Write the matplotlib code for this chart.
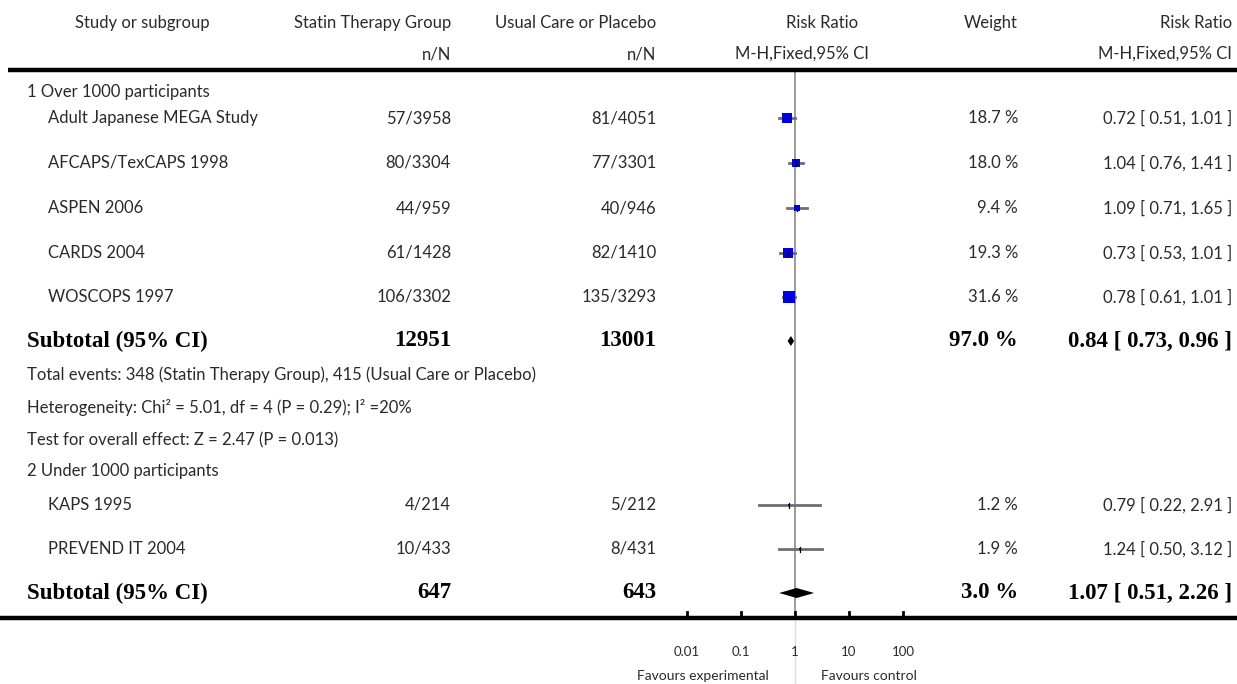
import numpy as np
import matplotlib
matplotlib.use('Agg')
import matplotlib.pyplot as plt

# data
group1_studies = ['Adult Japanese MEGA Study', 'AFCAPS/TexCAPS 1998', 'ASPEN 2006', 'CARDS 2004', 'WOSCOPS 1997']
group1_statin = ['57/3958', '80/3304', '44/959', '61/1428', '106/3302']
group1_control = ['81/4051', '77/3301', '40/946', '82/1410', '135/3293']
group1_weight = [18.7, 18.0, 9.4, 19.3, 31.6]
group1_rr = [0.72, 1.04, 1.09, 0.73, 0.78]
group1_lo = [0.51, 0.76, 0.71, 0.53, 0.61]
group1_hi = [1.01, 1.41, 1.65, 1.01, 1.01]

group2_studies = ['KAPS 1995', 'PREVEND IT 2004']
group2_statin = ['4/214', '10/433']
group2_control = ['5/212', '8/431']
group2_weight = [1.2, 1.9]
group2_rr = [0.79, 1.24]
group2_lo = [0.22, 0.50]
group2_hi = [2.91, 3.12]

sub_totals_statin = [12951, 647]
sub_totals_control = [13001, 643]
sub_weight = [97.0, 3.0]
sub_rr = [0.84, 1.07]
sub_lo = [0.73, 0.51]
sub_hi = [0.96, 2.26]

axis_ticks = [0.01, 0.1, 1, 10, 100]
axis_labels = ['0.01', '0.1', '1', '10', '100']

# layout (pixels)
W, H = 1237, 684
x_one = 795.0      # pixel of RR = 1
decade = 54.0      # pixels per decade
col_study = 48
col_group = 27
col_statin = 451
col_control = 656
col_weight = 1018
col_ci = 1232

sans = ['Lato', 'DejaVu Sans']
serif = ['Liberation Serif', 'DejaVu Serif']
txt_col = '#2a2a2a'
fs = 12
fs_b = 16.5

fig = plt.figure(figsize=(W / 100, H / 100), dpi=100)

# forest axes: log scale over the whole figure width
axf = fig.add_axes([0, 0, 1, 1])
axf.set_xscale('log')
axf.set_xlim(10 ** ((0 - x_one) / decade), 10 ** ((W - x_one) / decade))
axf.set_ylim(H, 0)
axf.axis('off')

# text axes: plain pixel coordinates
axt = fig.add_axes([0, 0, 1, 1])
axt.set_xlim(0, W)
axt.set_ylim(H, 0)
axt.axis('off')
axt.patch.set_alpha(0)


def t(x, y, s, ha='left', bold=False, size=None):
    if bold:
        axt.text(x, y, s, ha=ha, va='center', family=serif, fontweight='bold',
                 fontsize=fs_b, color='black')
    else:
        axt.text(x, y, s, ha=ha, va='center', family=sans,
                 fontsize=size or fs, color=txt_col)


# header
t(142, 23, 'Study or subgroup', ha='center')
t(col_statin, 23, 'Statin Therapy Group', ha='right')
t(col_control, 23, 'Usual Care or Placebo', ha='right')
t(858, 23, 'Risk Ratio', ha='right')
t(col_weight, 23, 'Weight', ha='right')
t(col_ci, 23, 'Risk Ratio', ha='right')
t(col_statin, 54, 'n/N', ha='right')
t(col_control, 54, 'n/N', ha='right')
t(869, 54, 'M-H,Fixed,95% CI', ha='right')
t(col_ci, 54, 'M-H,Fixed,95% CI', ha='right')
axt.plot([8, W], [70, 70], color='black', lw=3.2, solid_capstyle='butt')

# reference line at RR = 1
axf.plot([1, 1], [70, 618], color='#8a8a8a', lw=1.2)
axf.plot([1, 1], [618, H], color='#dddddd', lw=1.0)


def study_row(y, name, n1, n2, w, rr, lo, hi):
    t(col_study, y, name)
    t(col_statin, y, n1, ha='right')
    t(col_control, y, n2, ha='right')
    t(col_weight, y, '%.1f %%' % w, ha='right')
    t(col_ci, y, '%.2f [ %.2f, %.2f ]' % (rr, lo, hi), ha='right')
    axf.plot([lo, hi], [y, y], color='#6e6e6e', lw=2.0, zorder=3)
    axf.plot([rr], [y], marker='s', color='#0000ee', markersize=1.5 * np.sqrt(w),
             markeredgewidth=0, linestyle='none', zorder=4)
    axf.plot([rr, rr], [y - 2.5, y + 2.5], color='black', lw=0.9, zorder=5)


def subtotal_row(y, n1, n2, w, rr, lo, hi):
    t(col_group, y, 'Subtotal (95% CI)', bold=True)
    t(col_statin, y, str(n1), ha='right', bold=True)
    t(col_control, y, str(n2), ha='right', bold=True)
    t(col_weight, y, '%.1f %%' % w, ha='right', bold=True)
    t(col_ci, y, '%.2f [ %.2f, %.2f ]' % (rr, lo, hi), ha='right', bold=True)
    axf.fill([lo, rr, hi, rr], [y, y - 5, y, y + 5], color='black', lw=0, zorder=4)


# group 1
t(col_group, 92, '1 Over 1000 participants')
rows1 = [118, 163, 208, 253, 297]
for i in range(len(group1_studies)):
    study_row(rows1[i], group1_studies[i], group1_statin[i], group1_control[i],
              group1_weight[i], group1_rr[i], group1_lo[i], group1_hi[i])
subtotal_row(341, sub_totals_statin[0], sub_totals_control[0], sub_weight[0],
             sub_rr[0], sub_lo[0], sub_hi[0])
t(col_group, 375, 'Total events: 348 (Statin Therapy Group), 415 (Usual Care or Placebo)')
t(col_group, 407, 'Heterogeneity: Chi² = 5.01, df = 4 (P = 0.29); I² =20%')
t(col_group, 440, 'Test for overall effect: Z = 2.47 (P = 0.013)')

# group 2
t(col_group, 471, '2 Under 1000 participants')
rows2 = [505, 549]
for i in range(len(group2_studies)):
    study_row(rows2[i], group2_studies[i], group2_statin[i], group2_control[i],
              group2_weight[i], group2_rr[i], group2_lo[i], group2_hi[i])
subtotal_row(593, sub_totals_statin[1], sub_totals_control[1], sub_weight[1],
             sub_rr[1], sub_lo[1], sub_hi[1])

# bottom axis
axt.plot([0, W], [618, 618], color='black', lw=3.2, solid_capstyle='butt')
for v, lab in zip(axis_ticks, axis_labels):
    axf.plot([v, v], [612, 618], color='black', lw=2.0)
    axf.text(v, 652, lab, ha='center', va='center', family=sans,
             fontsize=9.5, color=txt_col)
t(769, 676, 'Favours experimental', ha='right', size=10)
t(821, 676, 'Favours control', ha='left', size=10)

plt.savefig('out.png', dpi=100)
